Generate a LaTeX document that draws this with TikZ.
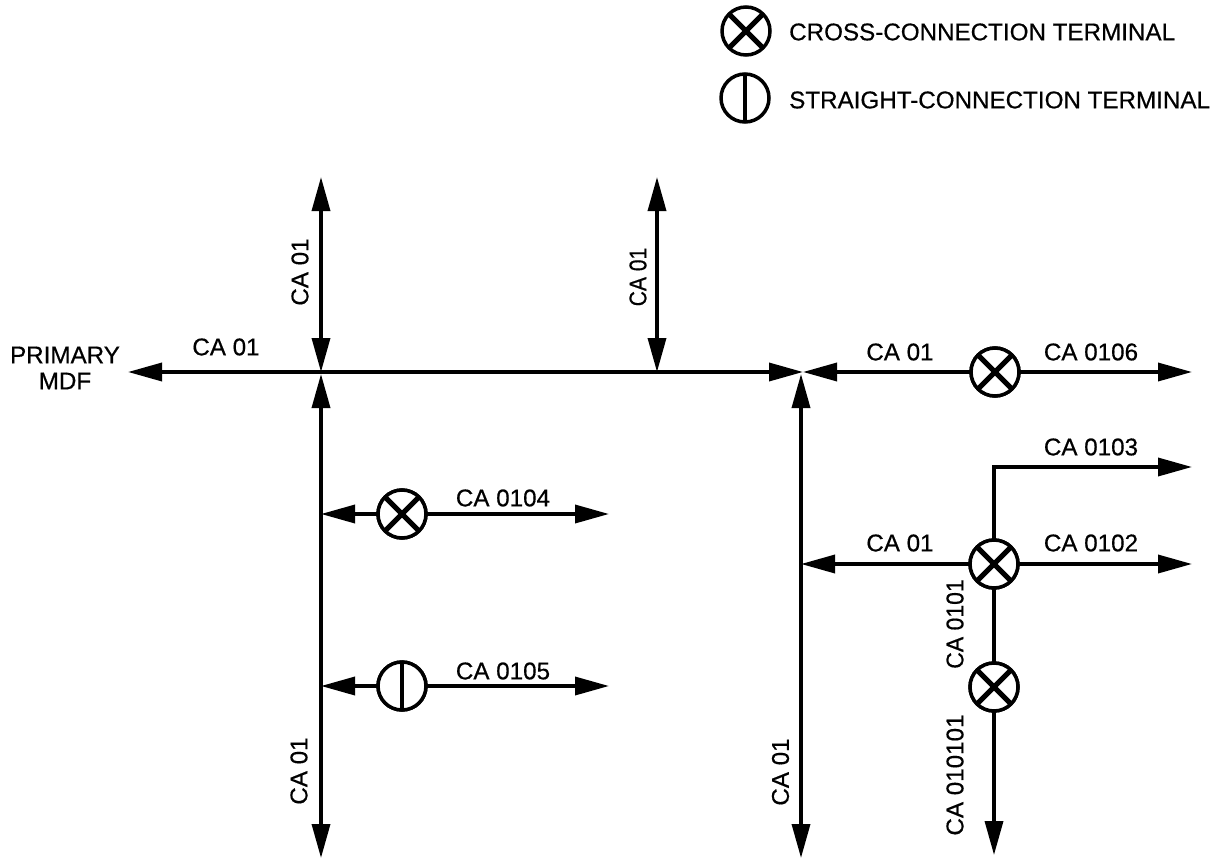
\documentclass[tikz,border=0pt]{standalone}
\usepackage{fontspec}
\setmainfont[FakeBold=0.5]{Liberation Sans}
\usetikzlibrary{arrows.meta}
\tikzset{
  wire/.style={line width=3.5pt,draw=black},
  oneway/.style={wire,-{Triangle[length=34pt,width=18pt]}},
  bothway/.style={wire,{Triangle[length=34pt,width=18pt]}-{Triangle[length=34pt,width=18pt]}},
  terminal/.style={circle,draw=black,line width=3.5pt,fill=white,minimum size=48pt,inner sep=0pt,outer sep=0pt},
  crossterm/.style={terminal,path picture={
    \draw[line width=5pt] (path picture bounding box.south west)--(path picture bounding box.north east);
    \draw[line width=5pt] (path picture bounding box.north west)--(path picture bounding box.south east);}},
  straightterm/.style={terminal,path picture={
    \draw[line width=3.5pt] (path picture bounding box.south)--(path picture bounding box.north);}},
  lab/.style={inner sep=0pt,font=\fontsize{24.2pt}{26pt}\selectfont,text=black},
  vlab/.style={lab,rotate=90},
  legend/.style={lab,anchor=west}
}
\begin{document}
\begin{tikzpicture}[x=1pt,y=-1pt]
\useasboundingbox (0,0) rectangle (1212,859);
% junctions and free ends
\coordinate (jA) at (321,372);
\coordinate (jB) at (803,372);
\coordinate (jC) at (657,372);
\coordinate (west) at (128,372);
\coordinate (topA) at (321,177);
\coordinate (topC) at (657,177);
\coordinate (botA) at (321,858);
\coordinate (jAlow) at (321,374);
\coordinate (jBlow) at (801,374);
\coordinate (botB) at (801,858);
\coordinate (jR) at (801,564);
\coordinate (eastA) at (1192,372);
\coordinate (eastB) at (1192,467);
\coordinate (eastC) at (1192,564);
\coordinate (botX) at (994,855);
\coordinate (tapA) at (321,514);
\coordinate (tapB) at (321,686);
\coordinate (endA) at (609,514);
\coordinate (endB) at (609,686);
% terminals
\node[crossterm] (t106) at (995,372) {};
\node[crossterm] (t101) at (994,564) {};
\node[crossterm] (t0101) at (994,687) {};
\node[crossterm] (t104) at (402,514) {};
\node[straightterm] (t105) at (402,686) {};
\node[crossterm] (legX) at (746,31) {};
\node[straightterm] (legS) at (745,98) {};
% connectors
\draw[bothway] (west) -- (jB);
\draw[bothway] (topA) -- (jA);
\draw[bothway] (topC) -- (jC);
\draw[bothway] (jAlow) -- (botA);
\draw[bothway] (jBlow) -- (botB);
\draw[oneway] (t106) -- (jB);
\draw[oneway] (t106) -- (eastA);
\draw[oneway] (t101) -- (jR);
\draw[oneway] (t101) -- (eastC);
\draw[oneway] (t101.north) |- (eastB);
\draw[wire] (t101) -- (t0101);
\draw[oneway] (t0101) -- (botX);
\draw[oneway] (t104) -- (tapA);
\draw[oneway] (t104) -- (endA);
\draw[oneway] (t105) -- (tapB);
\draw[oneway] (t105) -- (endB);
% redraw terminals above the wires
\node[crossterm] at (995,372) {};
\node[crossterm] at (994,564) {};
\node[crossterm] at (994,687) {};
\node[crossterm] at (402,514) {};
\node[straightterm] at (402,686) {};
% labels
\node[legend] (lx) at (789,32) {CROSS-CONNECTION TERMINAL};
\node[legend] (ls) at (789,100) {STRAIGHT-CONNECTION TERMINAL};
\node[lab,align=center] (pm) at (65,368) {PRIMARY\\MDF};
\node[lab] (l1) at (226,347) {CA 01};
\node[lab] (l2) at (900,352) {CA 01};
\node[lab] (l3) at (1091,352) {CA 0106};
\node[lab] (l4) at (1091,447) {CA 0103};
\node[lab] (l5) at (1091,543) {CA 0102};
\node[lab] (l6) at (900,543) {CA 01};
\node[lab] (l7) at (503,498) {CA 0104};
\node[lab] (l8) at (503,671) {CA 0105};
\node[vlab] (v1) at (300,272) {CA 01};
\node[vlab] (v2) at (638,277) {\scalebox{.87}[1]{CA 01}};
\node[vlab] (v3) at (299,771) {CA 01};
\node[vlab] (v4) at (780.5,772) {CA 01};
\node[vlab] (v5) at (955,624) {\scalebox{.95}[1]{CA 0101}};
\node[vlab] (v6) at (955,775) {CA 010101};
\end{tikzpicture}
\end{document}
